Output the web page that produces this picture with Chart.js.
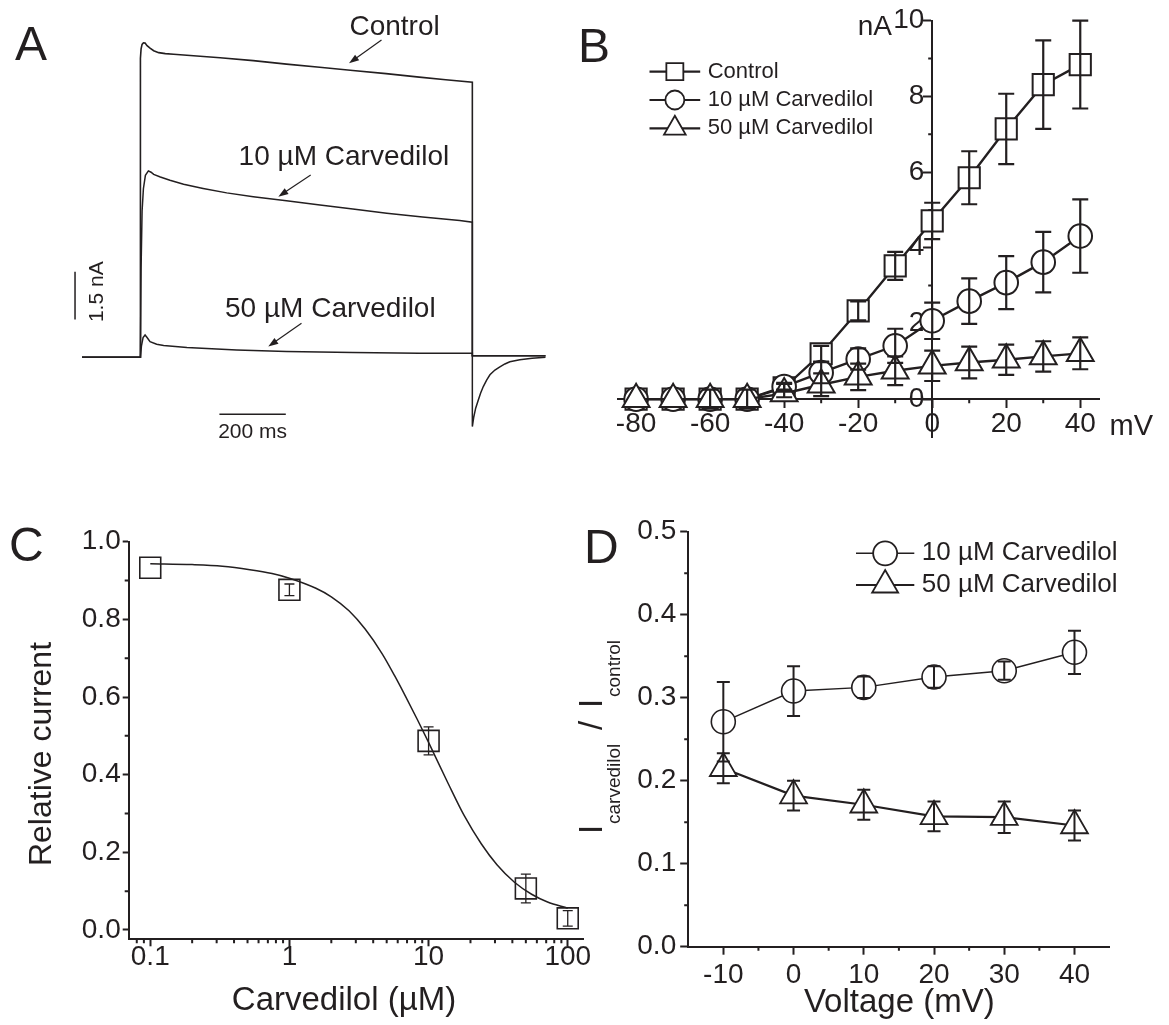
<!DOCTYPE html>
<html lang="en">
<head>
<meta charset="UTF-8">
<title>Carvedilol block</title>
<script src="https://cdn.jsdelivr.net/npm/chart.js@4.4.1/dist/chart.umd.min.js"></script>
<style>
  body { margin: 0; background: #fff; }
  .wrap { position: relative; width: 1169px; height: 1025px; overflow: hidden; background: #fff; }
  canvas { position: absolute; }
  #panelA { left: 0; top: 0; }
  #panelB { left: 570px; top: 0; }
  #panelC { left: 0; top: 500px; }
  #panelD { left: 560px; top: 500px; }
</style>
</head>
<body>
<div class="wrap">
  <canvas id="panelA" width="570" height="470"></canvas>
  <canvas id="panelB" width="599" height="470"></canvas>
  <canvas id="panelC" width="600" height="525"></canvas>
  <canvas id="panelD" width="609" height="525"></canvas>
</div>
<script>
const FONT = "'Liberation Sans', Arial, Helvetica, sans-serif";
const INK = '#231f20';
Chart.defaults.font.family = FONT;
Chart.defaults.color = INK;

// ---- Panel A: current traces (time in ms, current in nA)
const ctrlTime = [-176, 0, 0, 2, 5, 9, 14, 20, 29, 40, 55, 75, 100, 160, 240, 340, 440, 540, 640, 740, 840, 920, 1000, 1000, 1221];
const ctrlCur  = [0, 0, 9.40, 9.70, 9.84, 9.89, 9.88, 9.80, 9.72, 9.64, 9.58, 9.55, 9.53, 9.48, 9.42, 9.33, 9.22, 9.12, 9.02, 8.92, 8.81, 8.73, 8.65, 0.05, 0.05];
const c10Time  = [-176, 0, 2, 5, 9, 15, 24, 32, 40, 60, 89, 130, 189, 260, 340, 440, 541, 640, 742, 850, 962, 1000, 1000, 1221];
const c10Cur   = [0, 0, 2.8, 4.6, 5.3, 5.72, 5.86, 5.82, 5.75, 5.67, 5.57, 5.44, 5.31, 5.17, 5.05, 4.92, 4.79, 4.66, 4.53, 4.41, 4.30, 4.25, 0.05, 0.05];
const c50Time  = [-176, 0, 3, 8, 14, 20, 29, 49, 70, 140, 290, 440, 640, 840, 1000, 1000, 1004, 1010, 1018, 1025, 1033, 1043, 1053, 1068, 1083, 1098, 1113, 1143, 1180, 1221];
const c50Cur   = [0, 0, 0.35, 0.62, 0.70, 0.62, 0.49, 0.41, 0.37, 0.31, 0.23, 0.18, 0.15, 0.13, 0.13, -2.18, -1.90, -1.60, -1.34, -1.12, -0.92, -0.72, -0.55, -0.40, -0.30, -0.21, -0.14, -0.08, -0.03, 0];
const barTime = [238, 438];      // 200 ms scale bar
const barCur = [1.19, 2.69];     // 1.5 nA scale bar

// ---- Panel B: I-V relation
const bVoltage   = [-80, -70, -60, -50, -40, -30, -20, -10, 0, 10, 20, 30, 40];
const bControl   = [0, 0, 0, 0, 0.30, 1.20, 2.33, 3.52, 4.71, 5.85, 7.14, 8.31, 8.84];
const bControlSE = [0, 0, 0, 0, 0.10, 0.21, 0.25, 0.37, 0.48, 0.70, 0.93, 1.17, 1.16];
const bCarv10    = [0, 0, 0, 0, 0.33, 0.70, 1.06, 1.41, 2.07, 2.59, 3.08, 3.62, 4.31];
const bCarv10SE  = [0, 0, 0, 0, 0.10, 0.28, 0.28, 0.45, 0.48, 0.60, 0.70, 0.80, 0.97];
const bCarv50    = [0, 0, 0, 0, 0.15, 0.38, 0.59, 0.75, 0.88, 0.97, 1.04, 1.13, 1.21];
const bCarv50SE  = [0, 0, 0.25, 0.25, 0.10, 0.30, 0.35, 0.38, 0.40, 0.42, 0.40, 0.40, 0.42];
const bXTicks = [-80, -60, -40, -20, 0, 20, 40];
const bYTicks = [0, 2, 4, 6, 8, 10];

// ---- Panel C: concentration-response
const cConc   = [0.1, 1, 10, 50, 100];
const cRel    = [0.933, 0.876, 0.487, 0.107, 0.030];
const cRelSE  = [0, 0.015, 0.036, 0.037, 0.020];
const fitConc = [0.1, 0.2, 0.33, 0.52, 0.75, 1.0, 1.55, 2.0, 2.68, 3.5, 4.63, 5.7, 6.8, 8.3, 10, 13.8, 18, 23.9, 31, 41.4, 55, 71.6, 100];
const fitRel  = [0.943, 0.941, 0.937, 0.928, 0.918, 0.906, 0.880, 0.858, 0.822, 0.775, 0.712, 0.655, 0.603, 0.542, 0.483, 0.378, 0.295, 0.222, 0.168, 0.123, 0.092, 0.072, 0.056];
const cXTicks = [0.1, 1, 10, 100];
const cYTicks = [0, 0.2, 0.4, 0.6, 0.8, 1.0];

// ---- Panel D: fractional current vs voltage
const dVoltage  = [-10, 0, 10, 20, 30, 40];
const dCarv10   = [0.271, 0.308, 0.3125, 0.325, 0.3325, 0.3547];
const dCarv10SE = [0.048, 0.030, 0.013, 0.013, 0.011, 0.026];
const dCarv50   = [0.215, 0.182, 0.171, 0.157, 0.156, 0.146];
const dCarv50SE = [0.018, 0.018, 0.018, 0.018, 0.019, 0.018];
const dXTicks = [-10, 0, 10, 20, 30, 40];
const dYTicks = [0, 0.1, 0.2, 0.3, 0.4, 0.5];

function xy(xs, ys) { return xs.map((x, i) => ({ x: x, y: ys[i] })); }
function setTicks(vals) { return s => { s.ticks = vals.map(v => ({ value: v })); }; }

// error bars drawn on top of the markers
const errorBars = {
  id: 'errorBars',
  afterDatasetsDraw(chart) {
    const ctx = chart.ctx, xs = chart.scales.x, ys = chart.scales.y;
    chart.data.datasets.forEach(ds => {
      if (!ds.errors) return;
      ctx.save();
      ctx.strokeStyle = INK;
      ctx.lineWidth = ds.errWidth || 1.5;
      ctx.beginPath();
      ds.data.forEach((p, i) => {
        const e = ds.errors[i];
        if (!e) return;
        const px = xs.getPixelForValue(p.x);
        const top = ys.getPixelForValue(p.y + e), bot = ys.getPixelForValue(p.y - e);
        const c = ds.capHalf || 6;
        ctx.moveTo(px, top); ctx.lineTo(px, bot);
        ctx.moveTo(px - c, top); ctx.lineTo(px + c, top);
        ctx.moveTo(px - c, bot); ctx.lineTo(px + c, bot);
      });
      ctx.stroke();
      ctx.restore();
    });
  }
};

// short unlabeled ticks between the major ones
const minorTicks = {
  id: 'minorTicks',
  beforeDatasetsDraw(chart, args, opts) {
    if (!opts || (!opts.x && !opts.y)) return;
    const ctx = chart.ctx, xs = chart.scales.x, ys = chart.scales.y;
    const x0 = opts.xAt !== undefined ? xs.getPixelForValue(opts.xAt) : chart.chartArea.left;
    const y0 = opts.yAt !== undefined ? ys.getPixelForValue(opts.yAt) : chart.chartArea.bottom;
    ctx.save();
    ctx.strokeStyle = INK;
    ctx.lineWidth = 2;
    ctx.beginPath();
    (opts.x || []).forEach(v => { const p = xs.getPixelForValue(v); ctx.moveTo(p, y0); ctx.lineTo(p, y0 + opts.len); });
    (opts.y || []).forEach(v => { const p = ys.getPixelForValue(v); ctx.moveTo(x0, p); ctx.lineTo(x0 - opts.len, p); });
    ctx.stroke();
    ctx.restore();
  }
};
Chart.register(errorBars, minorTicks);

function text(ctx, str, x, y, size, align, base) {
  ctx.font = size + 'px ' + FONT;
  ctx.textAlign = align || 'left';
  ctx.textBaseline = base || 'alphabetic';
  ctx.fillStyle = INK;
  ctx.fillText(str, x, y);
}

function arrow(ctx, x1, y1, x2, y2) {
  const a = Math.atan2(y2 - y1, x2 - x1), L = 10, W = 3.5;
  ctx.save();
  ctx.strokeStyle = INK; ctx.fillStyle = INK; ctx.lineWidth = 1.2;
  ctx.beginPath(); ctx.moveTo(x1, y1); ctx.lineTo(x2 - 6 * Math.cos(a), y2 - 6 * Math.sin(a)); ctx.stroke();
  ctx.beginPath();
  ctx.moveTo(x2, y2);
  ctx.lineTo(x2 - L * Math.cos(a) + W * Math.sin(a), y2 - L * Math.sin(a) - W * Math.cos(a));
  ctx.lineTo(x2 - L * Math.cos(a) - W * Math.sin(a), y2 - L * Math.sin(a) + W * Math.cos(a));
  ctx.closePath(); ctx.fill();
  ctx.restore();
}

function legendRow(ctx, x1, x2, y, style, r, lw, label, tx, size) {
  ctx.save();
  ctx.strokeStyle = INK; ctx.lineWidth = lw;
  ctx.beginPath(); ctx.moveTo(x1, y); ctx.lineTo(x2, y); ctx.stroke();
  ctx.fillStyle = '#fff'; ctx.lineWidth = 1.8;
  Chart.helpers.drawPoint(ctx, { pointStyle: style, radius: r, rotation: 0, borderWidth: 1.8 }, (x1 + x2) / 2, y);
  ctx.restore();
  text(ctx, label, tx, y, size, 'left', 'middle');
}

function axis(extra) {
  return Chart.helpers.merge({
    grid: { drawOnChartArea: false, drawTicks: true, tickLength: 8, tickWidth: 2, tickColor: INK },
    border: { display: true, color: INK, width: 2 },
    ticks: { color: INK, font: { size: 28, family: FONT }, padding: 4, autoSkip: false, maxRotation: 0, minRotation: 0 }
  }, extra);
}

function baseOptions(extra) {
  return Chart.helpers.merge({
    responsive: false, animation: false, devicePixelRatio: 1, events: [],
    plugins: { legend: { display: false }, tooltip: { enabled: false } }
  }, extra);
}

function trace(t, cur, w) {
  return { data: xy(t, cur), showLine: true, pointRadius: 0, borderColor: INK, borderWidth: w, tension: 0, fill: false };
}

// ---------------- Panel A
new Chart(document.getElementById('panelA'), {
  type: 'scatter',
  data: { datasets: [trace(ctrlTime, ctrlCur, 1.6), trace(c10Time, c10Cur, 1.5), trace(c50Time, c50Cur, 1.5)] },
  options: baseOptions({
    layout: { padding: { left: 82, right: 24.3, top: 30, bottom: 30 } },
    scales: {
      x: { type: 'linear', display: false, min: -176, max: 1221 },
      y: { type: 'linear', display: false, min: -2.601, max: 10.292 }
    }
  }),
  plugins: [{
    id: 'decorA',
    afterDraw(chart) {
      const ctx = chart.ctx, xs = chart.scales.x, ys = chart.scales.y;
      text(ctx, 'A', 15, 60, 48);
      text(ctx, 'Control', 394.6, 35, 28, 'center');
      text(ctx, '10 \u00b5M Carvedilol', 238.6, 165, 28);
      text(ctx, '50 \u00b5M Carvedilol', 225, 316.7, 28);
      arrow(ctx, 381.5, 40, 349, 63.3);
      arrow(ctx, 310.7, 175, 278.3, 196.7);
      arrow(ctx, 301.5, 323.3, 268.3, 346.5);
      // scale bars
      ctx.save();
      ctx.strokeStyle = INK; ctx.lineWidth = 1.5;
      ctx.beginPath();
      const yb = ys.getPixelForValue(-1.79);
      ctx.moveTo(xs.getPixelForValue(barTime[0]), yb); ctx.lineTo(xs.getPixelForValue(barTime[1]), yb);
      const xb = xs.getPixelForValue(-197);
      ctx.moveTo(xb, ys.getPixelForValue(barCur[0])); ctx.lineTo(xb, ys.getPixelForValue(barCur[1]));
      ctx.stroke();
      ctx.restore();
      text(ctx, '200 ms', 252.6, 438, 21, 'center');
      ctx.save();
      ctx.translate(103, 291.7); ctx.rotate(-Math.PI / 2);
      text(ctx, '1.5 nA', 0, 0, 21, 'center');
      ctx.restore();
    }
  }]
});

// ---------------- Panel B
new Chart(document.getElementById('panelB'), {
  type: 'scatter',
  data: { datasets: [
    { label: 'Control', data: xy(bVoltage, bControl), errors: bControlSE, errWidth: 2.2, capHalf: 8,
      showLine: true, borderColor: INK, borderWidth: 2.4, pointStyle: 'rect', pointRadius: 15,
      pointBorderWidth: 2, pointBackgroundColor: '#fff', pointBorderColor: INK, order: 2 },
    { label: '10 \u00b5M Carvedilol', data: xy(bVoltage, bCarv10), errors: bCarv10SE, errWidth: 2.2, capHalf: 8,
      showLine: true, borderColor: INK, borderWidth: 2.4, pointStyle: 'circle', pointRadius: 11.8,
      pointBorderWidth: 2, pointBackgroundColor: '#fff', pointBorderColor: INK, order: 1 },
    { label: '50 \u00b5M Carvedilol', data: xy(bVoltage, bCarv50), errors: bCarv50SE, errWidth: 2.2, capHalf: 8,
      showLine: true, borderColor: INK, borderWidth: 2.4, pointStyle: 'triangle', pointRadius: 15.5,
      pointBorderWidth: 2, pointBackgroundColor: '#fff', pointBorderColor: INK, order: 0 }
  ] },
  options: baseOptions({
    layout: { padding: { left: 47.6, right: 69.5, top: 20.7, bottom: 33 } },
    scales: {
      x: axis({ type: 'linear', min: -85, max: 45.2, position: { y: 0 },
        afterBuildTicks: setTicks(bXTicks),
        afterFit: s => { s.height = 0; s.paddingLeft = 0; s.paddingRight = 0; },
        ticks: { padding: 0 } }),
      y: axis({ type: 'linear', min: -1, max: 10, position: { x: 0 },
        afterBuildTicks: setTicks(bYTicks),
        afterFit: s => { s.width = 0; s.paddingTop = 0; s.paddingBottom = 0; },
        ticks: { callback: v => v + ' ' } })
    },
    plugins: { minorTicks: { x: [-70, -50, -30, -10, 10, 30], y: [1, 3, 5, 7, 9], len: 4, xAt: 0, yAt: 0 } }
  }),
  plugins: [{
    id: 'decorB',
    afterDraw(chart) {
      const ctx = chart.ctx;
      text(ctx, 'B', 8, 62, 48);
      text(ctx, 'nA', 322, 35, 28, 'right');
      text(ctx, 'mV', 539.6, 435, 29);
      legendRow(ctx, 79.5, 130.2, 71.7, 'rect', 12, 2.2, 'Control', 137.7, 22);
      legendRow(ctx, 79.5, 130.2, 100, 'circle', 9.5, 2.2, '10 \u00b5M Carvedilol', 137.7, 22);
      legendRow(ctx, 79.5, 130.2, 128.3, 'triangle', 12.5, 2.2, '50 \u00b5M Carvedilol', 137.7, 22);
    }
  }]
});

// ---------------- Panel C
new Chart(document.getElementById('panelC'), {
  type: 'scatter',
  data: { datasets: [
    { label: 'fit', data: xy(fitConc, fitRel), showLine: true, pointRadius: 0, borderColor: INK,
      borderWidth: 1.5, cubicInterpolationMode: 'monotone', fill: false, order: 0 },
    { label: 'data', data: xy(cConc, cRel), errors: cRelSE, errWidth: 1.3, capHalf: 5,
      showLine: false, pointStyle: 'rect', pointRadius: 14.8, pointBorderWidth: 1.6,
      pointBackgroundColor: '#fff', pointBorderColor: INK, order: 1 }
  ] },
  options: baseOptions({
    layout: { padding: { left: 0, right: 13.6, top: 41.7, bottom: 0 } },
    scales: {
      x: axis({ type: 'logarithmic', min: 0.07, max: 130, position: 'bottom',
        afterBuildTicks: setTicks(cXTicks),
        afterFit: s => { s.height = 85.7; s.paddingLeft = 0; s.paddingRight = 0; },
        grid: { tickLength: 7 },
        ticks: { callback: v => String(v), padding: -3, font: { lineHeight: 1 } } }),
      y: axis({ type: 'linear', min: -0.024, max: 1.0, position: 'left',
        afterBuildTicks: setTicks(cYTicks),
        afterFit: s => { s.width = 128.7; s.paddingTop = 0; s.paddingBottom = 0; },
        grid: { tickLength: 6 },
        ticks: { callback: v => v.toFixed(1), padding: 2 } })
    },
    plugins: { minorTicks: {
      x: [0.08, 0.09, 0.2, 0.3, 0.4, 0.5, 0.6, 0.7, 0.8, 0.9, 2, 3, 4, 5, 6, 7, 8, 9, 20, 30, 40, 50, 60, 70, 80, 90],
      y: [0.1, 0.3, 0.5, 0.7, 0.9], len: 4 } }
  }),
  plugins: [{
    id: 'decorC',
    afterDraw(chart) {
      const ctx = chart.ctx;
      text(ctx, 'C', 9, 61, 48);
      text(ctx, 'Carvedilol (\u00b5M)', 344, 510, 33, 'center');
      ctx.save();
      ctx.translate(51, 254); ctx.rotate(-Math.PI / 2);
      text(ctx, 'Relative current', 0, 0, 32, 'center');
      ctx.restore();
    }
  }]
});

// ---------------- Panel D
new Chart(document.getElementById('panelD'), {
  type: 'scatter',
  data: { datasets: [
    { label: '10 \u00b5M Carvedilol', data: xy(dVoltage, dCarv10), errors: dCarv10SE, errWidth: 2, capHalf: 6.5,
      showLine: true, borderColor: INK, borderWidth: 1.4, pointStyle: 'circle', pointRadius: 12,
      pointBorderWidth: 1.6, pointBackgroundColor: '#fff', pointBorderColor: INK, order: 1 },
    { label: '50 \u00b5M Carvedilol', data: xy(dVoltage, dCarv50), errors: dCarv50SE, errWidth: 2, capHalf: 6.5,
      showLine: true, borderColor: INK, borderWidth: 2.2, pointStyle: 'triangle', pointRadius: 15.5,
      pointBorderWidth: 1.8, pointBackgroundColor: '#fff', pointBorderColor: INK, order: 0 }
  ] },
  options: baseOptions({
    layout: { padding: { left: 0, right: 59.4, top: 31.7, bottom: 0 } },
    scales: {
      x: axis({ type: 'linear', min: -15, max: 45, position: 'bottom',
        afterBuildTicks: setTicks(dXTicks),
        afterFit: s => { s.height = 78.3; s.paddingLeft = 0; s.paddingRight = 0; },
        ticks: { padding: 3.5 } }),
      y: axis({ type: 'linear', min: 0, max: 0.5, position: 'left',
        afterBuildTicks: setTicks(dYTicks),
        afterFit: s => { s.width = 128.2; s.paddingTop = 0; s.paddingBottom = 0; },
        ticks: { callback: v => v.toFixed(1), padding: 4 } })
    },
    plugins: { minorTicks: { x: [-5, 5, 15, 25, 35], y: [0.05, 0.15, 0.25, 0.35, 0.45], len: 4 } }
  }),
  plugins: [{
    id: 'decorD',
    afterDraw(chart) {
      const ctx = chart.ctx;
      text(ctx, 'D', 24, 63, 48);
      legendRow(ctx, 296, 354.3, 53.3, 'circle', 12, 1.4, '10 \u00b5M Carvedilol', 361.8, 26);
      legendRow(ctx, 296, 354.3, 85, 'triangle', 15, 2.2, '50 \u00b5M Carvedilol', 361.8, 26);
      text(ctx, 'Voltage (mV)', 339.3, 512, 33, 'center');
      // I_carvedilol / I_control, rotated
      ctx.save();
      ctx.translate(42, 334); ctx.rotate(-Math.PI / 2);
      const parts = [['I', 33, 0, 0], ['carvedilol', 19, 10, 18], ['/', 33, 104, 0], ['I', 33, 126, 0], ['control', 19, 137, 18]];
      parts.forEach(p => text(ctx, p[0], p[2], p[3], p[1]));
      ctx.restore();
    }
  }]
});
</script>
</body>
</html>
